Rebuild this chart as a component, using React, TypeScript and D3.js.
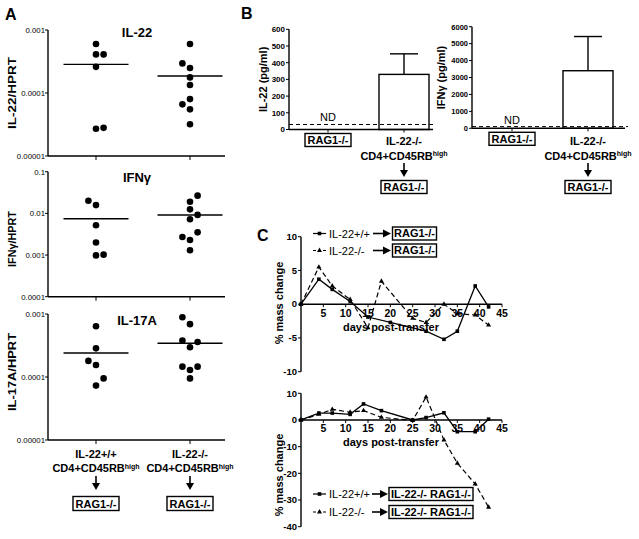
import React from "react";
import * as d3 from "d3";

const FONT = "'Liberation Sans', Arial, Helvetica, sans-serif";

// ---------- Panel A data ----------
const groupLabels = ["IL-22+/+", "IL-22-/-"];

const il22Ticks = [1e-3, 1e-4, 1e-5];
const il22TickLabels = ["0.001", "0.0001", "0.00001"];
const il22WT = [6.0e-4, 4.1e-4, 4.1e-4, 2.6e-4, 2.7e-5, 2.8e-5];
const il22WTSlot = [0, 0, 1, 0, 0, 1];
const il22WTMean = 2.85e-4;
const il22KO = [6.0e-4, 2.95e-4, 2.5e-4, 1.77e-4, 1.34e-4, 8.0e-5, 6.6e-5, 5.5e-5, 3.2e-5];
const il22KOSlot = [0, -1, 0, 0, 0, 0, -1, 0, 0];
const il22KOMean = 1.86e-4;

const ifngTicks = [1e-1, 1e-2, 1e-3, 1e-4];
const ifngTickLabels = ["0.1", "0.01", "0.001", "0.0001"];
const ifngWT = [0.02, 0.0158, 0.0052, 0.002, 0.00098, 0.00102];
const ifngWTSlot = [-1, 0, 0, 0, 0, 1];
const ifngWTMean = 0.0074;
const ifngKO = [0.0266, 0.019, 0.0125, 0.0092, 0.0072, 0.0035, 0.0027, 0.0023, 0.0013];
const ifngKOSlot = [1, 0, 0, 1, 0, 1, -1, 0, 0];
const ifngKOMean = 0.0091;

const il17Ticks = [1e-3, 1e-4, 1e-5];
const il17TickLabels = ["0.001", "0.0001", "0.00001"];
const il17WT = [6.4e-4, 2.85e-4, 1.8e-4, 1.55e-4, 9.5e-5, 7.3e-5];
const il17WTSlot = [0, 0, -1, 0, 1, 0];
const il17WTMean = 2.4e-4;
const il17KO = [8.9e-4, 6.9e-4, 3.8e-4, 3.6e-4, 2.96e-4, 1.46e-4, 1.46e-4, 1.29e-4, 9.5e-5];
const il17KOSlot = [-1, 0, -1, 1, 0, -1, 1, 0, 0];
const il17KOMean = 3.43e-4;

// ---------- Panel B data ----------
const bCategories = ["RAG1-/-", "IL-22-/-"];
const il22Conc = [0, 330];
const il22ConcErr = [0, 453];
const il22ConcTicks = [0, 100, 200, 300, 400, 500, 600];
const il22ND = 30;
const ifngConc = [0, 3400];
const ifngConcErr = [0, 5420];
const ifngConcTicks = [0, 1000, 2000, 3000, 4000, 5000, 6000];
const ifngND = 100;

// ---------- Panel C data ----------
const cDayTicks = [5, 10, 15, 20, 25, 30, 35, 40, 45];
const topTicks = [-10, -5, 0, 5, 10];
const bottomTicks = [-40, -30, -20, -10, 0, 10];

const topWTDays = [0, 4, 7, 11, 15, 20, 28, 32, 35, 39, 42];
const topWTMass = [0, 3.7, 2.2, 0.4, -1.9, -2.7, -4.0, -5.2, -4.0, 2.7, -0.4];
const topKODays = [0, 4, 7, 11, 15, 18, 25, 28, 32, 35, 39, 42];
const topKOMass = [0, 5.5, 2.7, 0.7, -3.5, 3.4, -2.1, -2.7, 0, -1.4, -1.6, -3.1];

const botWTDays = [0, 4, 7, 11, 14, 18, 25, 28, 32, 35, 39, 42];
const botWTMass = [0, 2.6, 2.6, 2.1, 6.0, 3.5, 0, 0.9, 2.7, -4.4, -4.4, 0.3];
const botKODays = [0, 4, 7, 11, 14, 18, 25, 28, 32, 35, 39, 42];
const botKOMass = [0, 2.1, 4.0, 2.9, 3.5, 1.0, -0.2, 8.6, -7.5, -16.2, -24, -32.7];

// ---------- helpers ----------
function Arrow({ x1, y1, x2, y2, len = 7, half = 4 }: any) {
  const dx = x2 - x1;
  const dy = y2 - y1;
  const L = Math.hypot(dx, dy);
  const ux = dx / L;
  const uy = dy / L;
  const bx = x2 - ux * len;
  const by = y2 - uy * len;
  const px = -uy * half;
  const py = ux * half;
  return (
    <g>
      <line x1={x1} y1={y1} x2={bx} y2={by} stroke="#000" strokeWidth={1.6} />
      <polygon points={`${x2},${y2} ${bx + px},${by + py} ${bx - px},${by - py}`} fill="#000" />
    </g>
  );
}

function BoxLabel({ cx, y, text, w, h = 13, size = 11 }: any) {
  return (
    <g>
      <rect x={cx - w / 2} y={y} width={w} height={h} fill="#fff" stroke="#000" strokeWidth={1.4} />
      <text x={cx} y={y + h - 2.6} textAnchor="middle" fontSize={size} fontWeight="bold" fontFamily={FONT} fill="#000">
        {text}
      </text>
    </g>
  );
}

function CD4Label({ x, y }: any) {
  return (
    <text x={x} y={y} textAnchor="middle" fontSize={11} fontWeight="bold" fontFamily={FONT} fill="#000">
      <tspan fill="#000">CD4+CD45RB</tspan>
      <tspan fill="#000" fontSize={7} dy={-3.5}>high</tspan>
    </text>
  );
}

// ---------- Panel A ----------
function DotPlot(props: any) {
  const { top, bottom, domain, ticks, tickLabels, title, titleY, yLabel, yLabelLen, yLabelY,
    wt, wtSlot, wtMean, ko, koSlot, koMean } = props;
  const axisX = 48;
  const axisEnd = 225;
  const y = d3.scaleLog().domain(domain).range([bottom, top]);
  const x = d3.scalePoint<string>().domain(groupLabels).range([96, 190]);
  const slotW = 7.6;
  const meanHalf = 32.5;
  const groups = [
    { key: groupLabels[0], vals: wt, slots: wtSlot, mean: wtMean },
    { key: groupLabels[1], vals: ko, slots: koSlot, mean: koMean },
  ];
  return (
    <g fontFamily={FONT} fill="#000">
      <line x1={axisX} y1={y(domain[1])} x2={axisX} y2={y(domain[0])} stroke="#000" strokeWidth={1.4} />
      <line x1={axisX} y1={y(domain[0])} x2={axisEnd} y2={y(domain[0])} stroke="#000" strokeWidth={1.4} />
      {ticks.map((t: number, i: number) => (
        <g key={i}>
          <line x1={axisX - 3} x2={axisX} y1={y(t)} y2={y(t)} stroke="#000" strokeWidth={1} />
          <text x={axisX - 3} y={y(t) + 2.8} textAnchor="end" fontSize={7.8}>
            {tickLabels[i]}
          </text>
        </g>
      ))}
      {groupLabels.map((g) => (
        <line key={g} x1={x(g)} x2={x(g)} y1={y(domain[0])} y2={y(domain[0]) + 4} stroke="#000" strokeWidth={1} />
      ))}
      <text x={137} y={titleY} textAnchor="middle" fontSize={13} fontWeight="bold">
        {title}
      </text>
      <text
        transform={`translate(16,${yLabelY}) rotate(-90)`}
        textAnchor="middle"
        fontSize={10.5}
        fontWeight="bold"
        textLength={yLabelLen}
        lengthAdjust="spacingAndGlyphs"
      >
        {yLabel}
      </text>
      {groups.map((g) => (
        <g key={g.key}>
          {g.vals.map((v: number, i: number) => (
            <circle key={i} cx={(x(g.key) as number) + g.slots[i] * slotW} cy={y(v)} r={3.3} fill="#000" />
          ))}
          <line
            x1={(x(g.key) as number) - meanHalf}
            x2={(x(g.key) as number) + meanHalf}
            y1={y(g.mean)}
            y2={y(g.mean)}
            stroke="#000"
            strokeWidth={1.4}
          />
        </g>
      ))}
    </g>
  );
}

// ---------- Panel B ----------
function BarPlot(props: any) {
  const { axisX, axisEnd, top, bottom, max, ticks, tickSize, yLabel, yLabelX, xs, values, errs, nd } = props;
  const y = d3.scaleLinear().domain([0, max]).range([bottom, top]);
  const x = d3.scalePoint<string>().domain(bCategories).range(xs);
  const barW = 50;
  const capHalf = 14;
  return (
    <g fontFamily={FONT} fill="#000">
      <line x1={axisX} y1={y(max)} x2={axisX} y2={y(0)} stroke="#000" strokeWidth={1.4} />
      {ticks.map((t: number) => (
        <g key={t}>
          <line x1={axisX - 3} x2={axisX} y1={y(t)} y2={y(t)} stroke="#000" strokeWidth={1} />
          <text x={axisX - 4} y={y(t) + 2.8} textAnchor="end" fontSize={tickSize} fontWeight="bold">
            {t}
          </text>
        </g>
      ))}
      <text transform={`translate(${yLabelX},${(y(0) + y(max)) / 2}) rotate(-90)`} textAnchor="middle" fontSize={11} fontWeight="bold">
        {yLabel}
      </text>
      {bCategories.map((c, i) =>
        values[i] > 0 ? (
          <g key={c}>
            <line x1={x(c)} x2={x(c)} y1={y(values[i])} y2={y(errs[i])} stroke="#000" strokeWidth={1.4} />
            <line x1={(x(c) as number) - capHalf} x2={(x(c) as number) + capHalf} y1={y(errs[i])} y2={y(errs[i])} stroke="#000" strokeWidth={1.4} />
            <rect x={(x(c) as number) - barW / 2} y={y(values[i])} width={barW} height={y(0) - y(values[i])} fill="#fff" stroke="#000" strokeWidth={1.4} />
          </g>
        ) : (
          <text key={c} x={x(c)} y={y(nd) - 3} textAnchor="middle" fontSize={11}>
            ND
          </text>
        )
      )}
      <line x1={axisX} y1={y(0)} x2={axisEnd} y2={y(0)} stroke="#000" strokeWidth={1.4} />
      <line x1={axisX} y1={y(nd)} x2={axisEnd + 3} y2={y(nd)} stroke="#000" strokeWidth={1} strokeDasharray="4,3" />
      {bCategories.map((c) => (
        <line key={c} x1={x(c)} x2={x(c)} y1={y(0)} y2={y(0) + 3} stroke="#000" strokeWidth={1} />
      ))}
      <BoxLabel cx={x(bCategories[0])} y={y(0) + 4} text="RAG1-/-" w={46} />
      <text x={x(bCategories[1])} y={144.5} textAnchor="middle" fontSize={11} fontWeight="bold">
        IL-22-/-
      </text>
      <CD4Label x={x(bCategories[1])} y={159.5} />
      <Arrow x1={x(bCategories[1])} y1={163} x2={x(bCategories[1])} y2={177} />
      <BoxLabel cx={x(bCategories[1])} y={180.5} text="RAG1-/-" w={46} />
    </g>
  );
}

// ---------- Panel C ----------
const xC = d3.scaleLinear().domain([0, 45]).range([301, 502]);

function LinePlot(props: any) {
  const { top, bottom, domain, ticks, wtDays, wtMass, koDays, koMass, labelY } = props;
  const y = d3.scaleLinear().domain(domain).range([bottom, top]);
  const line = d3
    .line<[number, number]>()
    .x((d) => xC(d[0]))
    .y((d) => y(d[1]));
  const wt: [number, number][] = wtDays.map((d: number, i: number) => [d, wtMass[i]]);
  const ko: [number, number][] = koDays.map((d: number, i: number) => [d, koMass[i]]);
  const tri = d3.symbol(d3.symbolTriangle, 11)();
  const y0 = y(0);
  return (
    <g fontFamily={FONT} fill="#000">
      <line x1={xC(0)} y1={y(domain[1])} x2={xC(0)} y2={y(domain[0])} stroke="#000" strokeWidth={1.4} />
      {ticks.map((t: number) => (
        <g key={t}>
          <line x1={xC(0) - 3} x2={xC(0)} y1={y(t)} y2={y(t)} stroke="#000" strokeWidth={1} />
          <text x={xC(0) - 4} y={y(t) + 3.2} textAnchor="end" fontSize={9.5} fontWeight="bold">
            {t}
          </text>
        </g>
      ))}
      <line x1={xC(0)} y1={y0} x2={xC(45)} y2={y0} stroke="#000" strokeWidth={1.4} />
      {cDayTicks.map((t) => (
        <g key={t}>
          <line x1={xC(t)} x2={xC(t)} y1={y0} y2={y0 + 3} stroke="#000" strokeWidth={1} />
          <text x={xC(t)} y={y0 + 12.5} textAnchor="middle" fontSize={10.5} fontWeight="bold">
            {t}
          </text>
        </g>
      ))}
      <text x={391} y={y0 + 26.5} textAnchor="middle" fontSize={11} fontWeight="bold">
        days post-transfer
      </text>
      <text transform={`translate(283,${labelY}) rotate(-90)`} textAnchor="middle" fontSize={11} fontWeight="bold">
        % mass change
      </text>
      <path d={line(wt) as string} fill="none" stroke="#000" strokeWidth={1.3} />
      <path d={line(ko) as string} fill="none" stroke="#000" strokeWidth={1.2} strokeDasharray="5,3" />
      {wt.map((d, i) => (
        <rect key={i} x={xC(d[0]) - 1.8} y={y(d[1]) - 1.8} width={3.6} height={3.6} fill="#000" />
      ))}
      {ko.map((d, i) => (
        <path key={i} d={tri as string} transform={`translate(${xC(d[0])},${y(d[1])})`} fill="#000" />
      ))}
    </g>
  );
}

function LegendRow({ y, dashed, label, boxText, boxX, boxW, arrowX1, arrowX2 }: any) {
  const tri = d3.symbol(d3.symbolTriangle, 11)();
  return (
    <g fontFamily={FONT} fill="#000">
      <line x1={313} x2={326} y1={y} y2={y} stroke="#000" strokeWidth={1.2} strokeDasharray={dashed ? "3,2" : undefined} />
      {dashed ? (
        <path d={tri as string} transform={`translate(319.5,${y})`} fill="#000" />
      ) : (
        <rect x={317.7} y={y - 1.8} width={3.6} height={3.6} fill="#000" />
      )}
      <text x={329} y={y + 4} fontSize={11}>
        {label}
      </text>
      <Arrow x1={arrowX1} y1={y} x2={arrowX2} y2={y} len={8} half={4} />
      <BoxLabel cx={boxX + boxW / 2} y={y - 6.5} text={boxText} w={boxW} />
    </g>
  );
}

export default function App() {
  const xA = d3.scalePoint<string>().domain(groupLabels).range([96, 190]);
  return (
    <svg width={639} height={539} style={{ position: "absolute", left: 0, top: 0, background: "#fff" }}>
      <rect x={0} y={0} width={639} height={539} fill="#fff" />
      {/* Panel letters */}
      <text x={5} y={20} fontSize={16} fontWeight="bold" fontFamily={FONT} fill="#000">A</text>
      <text x={241} y={19} fontSize={16} fontWeight="bold" fontFamily={FONT} fill="#000">B</text>
      <text x={257} y={241} fontSize={16} fontWeight="bold" fontFamily={FONT} fill="#000">C</text>

      {/* Panel A */}
      <DotPlot top={30} bottom={156} domain={[1e-5, 1e-3]} ticks={il22Ticks} tickLabels={il22TickLabels}
        title="IL-22" titleY={37} yLabel="IL-22/HPRT" yLabelLen={72} yLabelY={93}
        wt={il22WT} wtSlot={il22WTSlot} wtMean={il22WTMean} ko={il22KO} koSlot={il22KOSlot} koMean={il22KOMean} />
      <DotPlot top={171.7} bottom={296.7} domain={[1e-4, 1e-1]} ticks={ifngTicks} tickLabels={ifngTickLabels}
        title="IFNγ" titleY={182} yLabel="IFNγ/HPRT" yLabelLen={56} yLabelY={239}
        wt={ifngWT} wtSlot={ifngWTSlot} wtMean={ifngWTMean} ko={ifngKO} koSlot={ifngKOSlot} koMean={ifngKOMean} />
      <DotPlot top={314} bottom={440} domain={[1e-5, 1e-3]} ticks={il17Ticks} tickLabels={il17TickLabels}
        title="IL-17A" titleY={325} yLabel="IL-17A/HPRT" yLabelLen={78} yLabelY={372}
        wt={il17WT} wtSlot={il17WTSlot} wtMean={il17WTMean} ko={il17KO} koSlot={il17KOSlot} koMean={il17KOMean} />
      {groupLabels.map((g) => (
        <g key={g} fontFamily={FONT} fill="#000">
          <text x={xA(g)} y={458} textAnchor="middle" fontSize={11} fontWeight="bold">{g}</text>
          <CD4Label x={xA(g)} y={472} />
          <Arrow x1={xA(g)} y1={476} x2={xA(g)} y2={490} />
          <BoxLabel cx={xA(g)} y={496.5} text="RAG1-/-" w={46} h={14} />
        </g>
      ))}

      {/* Panel B */}
      <BarPlot axisX={289} axisEnd={433} top={29.3} bottom={129.5} max={600} ticks={il22ConcTicks} tickSize={8}
        yLabel="IL-22 (pg/ml)" yLabelX={267} xs={[328, 404]} values={il22Conc} errs={il22ConcErr} nd={il22ND} />
      <BarPlot axisX={472} axisEnd={625} top={26.7} bottom={128.3} max={6000} ticks={ifngConcTicks} tickSize={7.5}
        yLabel="IFNγ (pg/ml)" yLabelX={445} xs={[512, 588]} values={ifngConc} errs={ifngConcErr} nd={ifngND} />

      {/* Panel C */}
      <LinePlot top={236.7} bottom={371.7} domain={[-10, 10]} ticks={topTicks}
        wtDays={topWTDays} wtMass={topWTMass} koDays={topKODays} koMass={topKOMass} labelY={303} />
      <LegendRow y={233.5} dashed={false} label="IL-22+/+" boxText="RAG1-/-" boxX={392.5} boxW={44} arrowX1={373} arrowX2={391} />
      <LegendRow y={250.5} dashed={true} label="IL-22-/-" boxText="RAG1-/-" boxX={392.5} boxW={44} arrowX1={373} arrowX2={391} />

      <LinePlot top={393.3} bottom={526.7} domain={[-40, 10]} ticks={bottomTicks}
        wtDays={botWTDays} wtMass={botWTMass} koDays={botKODays} koMass={botKOMass} labelY={475} />
      <LegendRow y={494} dashed={false} label="IL-22+/+" boxText="IL-22-/- RAG1-/-" boxX={389} boxW={84} arrowX1={372} arrowX2={388} />
      <LegendRow y={512} dashed={true} label="IL-22-/-" boxText="IL-22-/- RAG1-/-" boxX={389} boxW={84} arrowX1={372} arrowX2={388} />
    </svg>
  );
}
